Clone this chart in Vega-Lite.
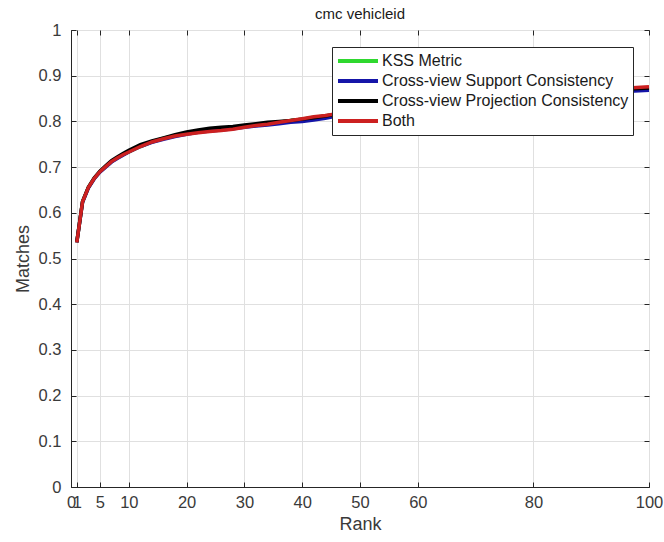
{
  "$schema": "https://vega.github.io/schema/vega-lite/v6.json",
  "width": 578,
  "height": 457,
  "autosize": "none",
  "padding": {"left": 71, "top": 30, "right": 15, "bottom": 55},
  "background": "white",
  "title": {"text": "cmc vehicleid", "font": "Liberation Sans", "fontSize": 15, "fontWeight": "normal", "color": "#1a1a1a", "offset": 0},
  "config": {
    "view": {"stroke": "#262626", "strokeWidth": 1},
    "axis": {
      "labelFont": "Liberation Sans",
      "labelFontSize": 16.5,
      "labelColor": "#3a3a3a",
      "titleFont": "Liberation Sans",
      "titleFontSize": 18,
      "titleFontWeight": "normal",
      "titleColor": "#3a3a3a",
      "domainColor": "#262626",
      "tickColor": "#262626",
      "gridColor": "#e0e0e0",
      "gridWidth": 1
    }
  },
  "datasets": {
    "cmc": [
      {"rank": 1, "value": 0.535, "method": "KSS Metric"},
      {"rank": 2, "value": 0.624, "method": "KSS Metric"},
      {"rank": 3, "value": 0.655, "method": "KSS Metric"},
      {"rank": 4, "value": 0.675, "method": "KSS Metric"},
      {"rank": 5, "value": 0.690, "method": "KSS Metric"},
      {"rank": 6, "value": 0.701, "method": "KSS Metric"},
      {"rank": 7, "value": 0.712, "method": "KSS Metric"},
      {"rank": 8, "value": 0.720, "method": "KSS Metric"},
      {"rank": 9, "value": 0.727, "method": "KSS Metric"},
      {"rank": 10, "value": 0.733, "method": "KSS Metric"},
      {"rank": 12, "value": 0.745, "method": "KSS Metric"},
      {"rank": 14, "value": 0.755, "method": "KSS Metric"},
      {"rank": 16, "value": 0.763, "method": "KSS Metric"},
      {"rank": 18, "value": 0.769, "method": "KSS Metric"},
      {"rank": 20, "value": 0.774, "method": "KSS Metric"},
      {"rank": 22, "value": 0.777, "method": "KSS Metric"},
      {"rank": 24, "value": 0.780, "method": "KSS Metric"},
      {"rank": 26, "value": 0.782, "method": "KSS Metric"},
      {"rank": 28, "value": 0.785, "method": "KSS Metric"},
      {"rank": 30, "value": 0.789, "method": "KSS Metric"},
      {"rank": 32, "value": 0.792, "method": "KSS Metric"},
      {"rank": 34, "value": 0.795, "method": "KSS Metric"},
      {"rank": 36, "value": 0.798, "method": "KSS Metric"},
      {"rank": 38, "value": 0.802, "method": "KSS Metric"},
      {"rank": 40, "value": 0.805, "method": "KSS Metric"},
      {"rank": 42, "value": 0.809, "method": "KSS Metric"},
      {"rank": 44, "value": 0.812, "method": "KSS Metric"},
      {"rank": 46, "value": 0.816, "method": "KSS Metric"},
      {"rank": 48, "value": 0.819, "method": "KSS Metric"},
      {"rank": 50, "value": 0.822, "method": "KSS Metric"},
      {"rank": 55, "value": 0.829, "method": "KSS Metric"},
      {"rank": 60, "value": 0.835, "method": "KSS Metric"},
      {"rank": 65, "value": 0.841, "method": "KSS Metric"},
      {"rank": 70, "value": 0.846, "method": "KSS Metric"},
      {"rank": 75, "value": 0.851, "method": "KSS Metric"},
      {"rank": 80, "value": 0.856, "method": "KSS Metric"},
      {"rank": 85, "value": 0.861, "method": "KSS Metric"},
      {"rank": 90, "value": 0.865, "method": "KSS Metric"},
      {"rank": 95, "value": 0.869, "method": "KSS Metric"},
      {"rank": 100, "value": 0.872, "method": "KSS Metric"},

      {"rank": 1, "value": 0.535, "method": "Cross-view Support Consistency"},
      {"rank": 2, "value": 0.623, "method": "Cross-view Support Consistency"},
      {"rank": 3, "value": 0.654, "method": "Cross-view Support Consistency"},
      {"rank": 4, "value": 0.674, "method": "Cross-view Support Consistency"},
      {"rank": 5, "value": 0.689, "method": "Cross-view Support Consistency"},
      {"rank": 6, "value": 0.700, "method": "Cross-view Support Consistency"},
      {"rank": 7, "value": 0.711, "method": "Cross-view Support Consistency"},
      {"rank": 8, "value": 0.719, "method": "Cross-view Support Consistency"},
      {"rank": 9, "value": 0.726, "method": "Cross-view Support Consistency"},
      {"rank": 10, "value": 0.733, "method": "Cross-view Support Consistency"},
      {"rank": 12, "value": 0.745, "method": "Cross-view Support Consistency"},
      {"rank": 14, "value": 0.754, "method": "Cross-view Support Consistency"},
      {"rank": 16, "value": 0.761, "method": "Cross-view Support Consistency"},
      {"rank": 18, "value": 0.767, "method": "Cross-view Support Consistency"},
      {"rank": 20, "value": 0.772, "method": "Cross-view Support Consistency"},
      {"rank": 22, "value": 0.776, "method": "Cross-view Support Consistency"},
      {"rank": 24, "value": 0.779, "method": "Cross-view Support Consistency"},
      {"rank": 26, "value": 0.781, "method": "Cross-view Support Consistency"},
      {"rank": 28, "value": 0.784, "method": "Cross-view Support Consistency"},
      {"rank": 30, "value": 0.787, "method": "Cross-view Support Consistency"},
      {"rank": 32, "value": 0.790, "method": "Cross-view Support Consistency"},
      {"rank": 34, "value": 0.792, "method": "Cross-view Support Consistency"},
      {"rank": 36, "value": 0.795, "method": "Cross-view Support Consistency"},
      {"rank": 38, "value": 0.798, "method": "Cross-view Support Consistency"},
      {"rank": 40, "value": 0.800, "method": "Cross-view Support Consistency"},
      {"rank": 42, "value": 0.803, "method": "Cross-view Support Consistency"},
      {"rank": 44, "value": 0.807, "method": "Cross-view Support Consistency"},
      {"rank": 46, "value": 0.812, "method": "Cross-view Support Consistency"},
      {"rank": 48, "value": 0.816, "method": "Cross-view Support Consistency"},
      {"rank": 50, "value": 0.820, "method": "Cross-view Support Consistency"},
      {"rank": 55, "value": 0.827, "method": "Cross-view Support Consistency"},
      {"rank": 60, "value": 0.833, "method": "Cross-view Support Consistency"},
      {"rank": 65, "value": 0.839, "method": "Cross-view Support Consistency"},
      {"rank": 70, "value": 0.844, "method": "Cross-view Support Consistency"},
      {"rank": 75, "value": 0.849, "method": "Cross-view Support Consistency"},
      {"rank": 80, "value": 0.854, "method": "Cross-view Support Consistency"},
      {"rank": 85, "value": 0.858, "method": "Cross-view Support Consistency"},
      {"rank": 90, "value": 0.862, "method": "Cross-view Support Consistency"},
      {"rank": 95, "value": 0.865, "method": "Cross-view Support Consistency"},
      {"rank": 100, "value": 0.868, "method": "Cross-view Support Consistency"},

      {"rank": 1, "value": 0.536, "method": "Cross-view Projection Consistency"},
      {"rank": 2, "value": 0.625, "method": "Cross-view Projection Consistency"},
      {"rank": 3, "value": 0.656, "method": "Cross-view Projection Consistency"},
      {"rank": 4, "value": 0.676, "method": "Cross-view Projection Consistency"},
      {"rank": 5, "value": 0.691, "method": "Cross-view Projection Consistency"},
      {"rank": 6, "value": 0.703, "method": "Cross-view Projection Consistency"},
      {"rank": 7, "value": 0.714, "method": "Cross-view Projection Consistency"},
      {"rank": 8, "value": 0.722, "method": "Cross-view Projection Consistency"},
      {"rank": 9, "value": 0.730, "method": "Cross-view Projection Consistency"},
      {"rank": 10, "value": 0.737, "method": "Cross-view Projection Consistency"},
      {"rank": 12, "value": 0.749, "method": "Cross-view Projection Consistency"},
      {"rank": 14, "value": 0.757, "method": "Cross-view Projection Consistency"},
      {"rank": 16, "value": 0.764, "method": "Cross-view Projection Consistency"},
      {"rank": 18, "value": 0.771, "method": "Cross-view Projection Consistency"},
      {"rank": 20, "value": 0.777, "method": "Cross-view Projection Consistency"},
      {"rank": 22, "value": 0.781, "method": "Cross-view Projection Consistency"},
      {"rank": 24, "value": 0.785, "method": "Cross-view Projection Consistency"},
      {"rank": 26, "value": 0.787, "method": "Cross-view Projection Consistency"},
      {"rank": 28, "value": 0.789, "method": "Cross-view Projection Consistency"},
      {"rank": 30, "value": 0.792, "method": "Cross-view Projection Consistency"},
      {"rank": 32, "value": 0.795, "method": "Cross-view Projection Consistency"},
      {"rank": 34, "value": 0.798, "method": "Cross-view Projection Consistency"},
      {"rank": 36, "value": 0.800, "method": "Cross-view Projection Consistency"},
      {"rank": 38, "value": 0.802, "method": "Cross-view Projection Consistency"},
      {"rank": 40, "value": 0.805, "method": "Cross-view Projection Consistency"},
      {"rank": 42, "value": 0.808, "method": "Cross-view Projection Consistency"},
      {"rank": 44, "value": 0.812, "method": "Cross-view Projection Consistency"},
      {"rank": 46, "value": 0.816, "method": "Cross-view Projection Consistency"},
      {"rank": 48, "value": 0.819, "method": "Cross-view Projection Consistency"},
      {"rank": 50, "value": 0.822, "method": "Cross-view Projection Consistency"},
      {"rank": 55, "value": 0.829, "method": "Cross-view Projection Consistency"},
      {"rank": 60, "value": 0.836, "method": "Cross-view Projection Consistency"},
      {"rank": 65, "value": 0.842, "method": "Cross-view Projection Consistency"},
      {"rank": 70, "value": 0.847, "method": "Cross-view Projection Consistency"},
      {"rank": 75, "value": 0.852, "method": "Cross-view Projection Consistency"},
      {"rank": 80, "value": 0.857, "method": "Cross-view Projection Consistency"},
      {"rank": 85, "value": 0.862, "method": "Cross-view Projection Consistency"},
      {"rank": 90, "value": 0.866, "method": "Cross-view Projection Consistency"},
      {"rank": 95, "value": 0.870, "method": "Cross-view Projection Consistency"},
      {"rank": 100, "value": 0.873, "method": "Cross-view Projection Consistency"},

      {"rank": 1, "value": 0.535, "method": "Both"},
      {"rank": 2, "value": 0.624, "method": "Both"},
      {"rank": 3, "value": 0.655, "method": "Both"},
      {"rank": 4, "value": 0.675, "method": "Both"},
      {"rank": 5, "value": 0.690, "method": "Both"},
      {"rank": 6, "value": 0.701, "method": "Both"},
      {"rank": 7, "value": 0.712, "method": "Both"},
      {"rank": 8, "value": 0.720, "method": "Both"},
      {"rank": 9, "value": 0.727, "method": "Both"},
      {"rank": 10, "value": 0.733, "method": "Both"},
      {"rank": 12, "value": 0.745, "method": "Both"},
      {"rank": 14, "value": 0.755, "method": "Both"},
      {"rank": 16, "value": 0.762, "method": "Both"},
      {"rank": 18, "value": 0.768, "method": "Both"},
      {"rank": 20, "value": 0.772, "method": "Both"},
      {"rank": 22, "value": 0.775, "method": "Both"},
      {"rank": 24, "value": 0.778, "method": "Both"},
      {"rank": 26, "value": 0.780, "method": "Both"},
      {"rank": 28, "value": 0.783, "method": "Both"},
      {"rank": 30, "value": 0.787, "method": "Both"},
      {"rank": 32, "value": 0.791, "method": "Both"},
      {"rank": 34, "value": 0.794, "method": "Both"},
      {"rank": 36, "value": 0.798, "method": "Both"},
      {"rank": 38, "value": 0.802, "method": "Both"},
      {"rank": 40, "value": 0.806, "method": "Both"},
      {"rank": 42, "value": 0.810, "method": "Both"},
      {"rank": 44, "value": 0.813, "method": "Both"},
      {"rank": 46, "value": 0.817, "method": "Both"},
      {"rank": 48, "value": 0.820, "method": "Both"},
      {"rank": 50, "value": 0.823, "method": "Both"},
      {"rank": 55, "value": 0.830, "method": "Both"},
      {"rank": 60, "value": 0.837, "method": "Both"},
      {"rank": 65, "value": 0.843, "method": "Both"},
      {"rank": 70, "value": 0.849, "method": "Both"},
      {"rank": 75, "value": 0.854, "method": "Both"},
      {"rank": 80, "value": 0.859, "method": "Both"},
      {"rank": 85, "value": 0.864, "method": "Both"},
      {"rank": 90, "value": 0.868, "method": "Both"},
      {"rank": 95, "value": 0.872, "method": "Both"},
      {"rank": 100, "value": 0.876, "method": "Both"}
    ]
  },
  "data": {"name": "cmc"},
  "layer": [
    {
      "mark": {"type": "point", "opacity": 0},
      "encoding": {
        "x": {"field": "rank", "type": "quantitative", "scale": {"domain": [0, 100], "nice": false},
          "axis": {"orient": "top", "labels": false, "title": null, "grid": true, "domain": false, "values": [0, 1, 5, 10, 20, 30, 40, 50, 60, 80, 100], "tickSize": -5}},
        "y": {"field": "value", "type": "quantitative", "scale": {"domain": [0, 1], "nice": false},
          "axis": {"orient": "right", "labels": false, "title": null, "grid": true, "domain": false, "values": [0, 0.1, 0.2, 0.3, 0.4, 0.5, 0.6, 0.7, 0.8, 0.9, 1], "tickSize": -5}}
      }
    },
    {
      "mark": {"type": "line", "strokeWidth": 3.5, "interpolate": "linear"},
      "encoding": {
        "x": {"field": "rank", "type": "quantitative", "scale": {"domain": [0, 100], "nice": false},
          "axis": {"orient": "bottom", "title": "Rank", "grid": false, "values": [0, 1, 5, 10, 20, 30, 40, 50, 60, 80, 100], "labelOverlap": false, "tickSize": -5, "labelPadding": 12, "titlePadding": 5, "labelFlush": false}},
        "y": {"field": "value", "type": "quantitative", "scale": {"domain": [0, 1], "nice": false},
          "axis": {"orient": "left", "title": "Matches", "grid": false, "values": [0, 0.1, 0.2, 0.3, 0.4, 0.5, 0.6, 0.7, 0.8, 0.9, 1], "format": "~g", "labelOverlap": false, "tickSize": -5, "labelPadding": 15, "titlePadding": 6, "labelFlush": false}},
        "color": {
          "field": "method",
          "type": "nominal",
          "sort": ["KSS Metric", "Cross-view Support Consistency", "Cross-view Projection Consistency", "Both"],
          "scale": {
            "domain": ["KSS Metric", "Cross-view Support Consistency", "Cross-view Projection Consistency", "Both"],
            "range": ["#2fd82f", "#1515a8", "#000000", "#cc2020"]
          },
          "legend": {
            "orient": "none",
            "legendX": 261,
            "legendY": 17,
            "title": null,
            "strokeColor": "#262626",
            "fillColor": "white",
            "padding": 4,
            "symbolType": "stroke",
            "symbolSize": 1600,
            "symbolStrokeWidth": 4,
            "clipHeight": 20,
            "rowPadding": 0,
            "labelFont": "Liberation Sans",
            "labelFontSize": 16,
            "labelColor": "#1a1a1a",
            "labelOffset": 2,
            "labelLimit": 0
          }
        },
        "order": {"field": "rank", "type": "quantitative"}
      }
    }
  ],
  "resolve": {"axis": {"x": "independent", "y": "independent"}}
}
